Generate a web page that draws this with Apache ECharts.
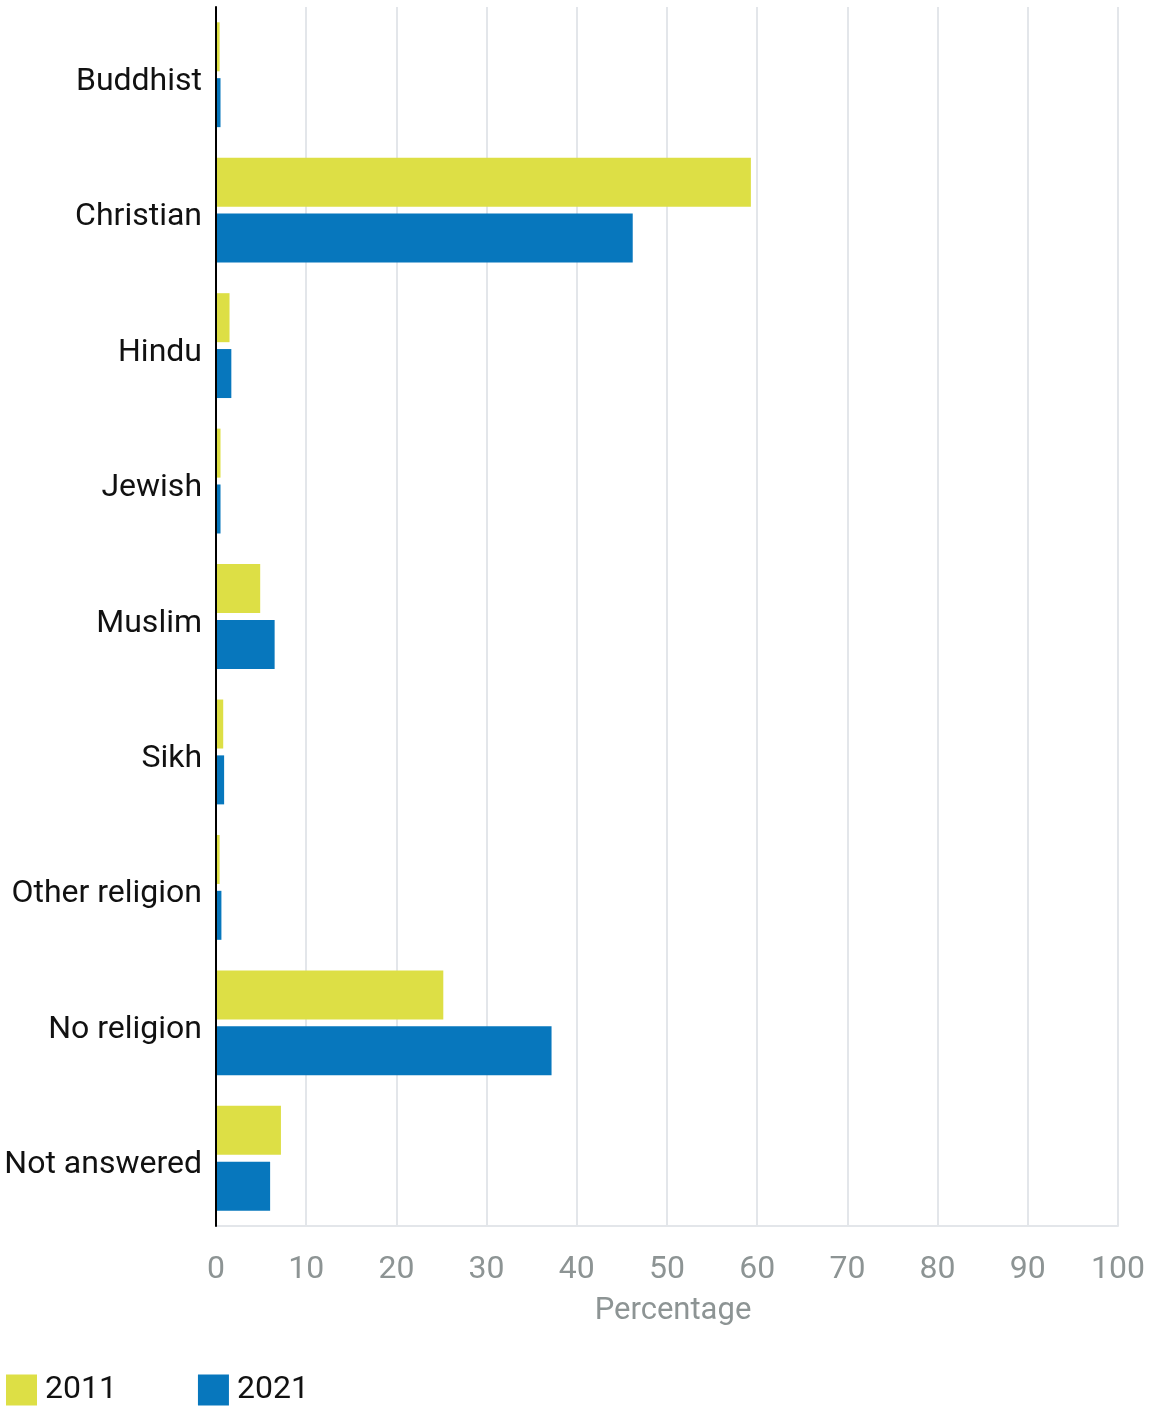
<!DOCTYPE html>
<html>
<head>
<meta charset="utf-8">
<script src="https://cdn.jsdelivr.net/npm/echarts@6/dist/echarts.min.js"></script>
<style>
html,body{margin:0;padding:0;background:#fff;}
#chart{width:1149px;height:1408px;}
</style>
</head>
<body>
<div id="chart"></div>
<script>
const categories = ["Buddhist","Christian","Hindu","Jewish","Muslim","Sikh","Other religion","No religion","Not answered"];
const values2011 = [0.4, 59.3, 1.5, 0.5, 4.9, 0.8, 0.4, 25.2, 7.2];
const values2021 = [0.5, 46.2, 1.7, 0.5, 6.5, 0.9, 0.6, 37.2, 6.0];
const seriesNames = ["2011","2021"];

const chart = echarts.init(document.getElementById('chart'));
chart.setOption({
  animation:false,
  textStyle:{fontFamily:'Roboto'},
  grid:{left:216,right:31,top:7,bottom:182,containLabel:false},
  legend:{
    left:6, top:1374, orient:'horizontal', padding:0,
    itemWidth:31, itemHeight:31, itemGap:81,
    icon:'rect',
    textStyle:{fontSize:32,color:'#111',fontFamily:'Roboto',padding:[12,0,0,3]},
    data:seriesNames
  },
  xAxis:{
    type:'value', min:0, max:100, interval:10,
    axisLine:{show:true,lineStyle:{color:'#e3e6ea',width:2}},
    axisTick:{show:false},
    splitLine:{show:true,lineStyle:{color:'#e3e6ea',width:2}},
    axisLabel:{fontSize:32,color:'#8d9494',margin:28,fontFamily:'Roboto'},
    name:'Percentage', nameLocation:'middle', nameGap:70,
    nameTextStyle:{fontSize:31,color:'#8d9494',fontFamily:'Roboto',padding:[0,0,0,12]}
  },
  yAxis:{
    type:'category', data:categories, inverse:true,
    axisLine:{show:true,lineStyle:{color:'#000',width:2}},
    axisTick:{show:false},
    splitLine:{show:false},
    axisLabel:{
      margin:14,
      formatter:function(v){return '{a|'+v+'}';},
      rich:{a:{fontSize:32,color:'#111',fontFamily:'Roboto',padding:[14,0,0,0]}}
    },
    z:5
  },
  series:[
    {name:seriesNames[0],type:'bar',data:values2011,barWidth:49,barGap:'14%',itemStyle:{color:'#dddf45'}},
    {name:seriesNames[1],type:'bar',data:values2021,barWidth:49,barGap:'14%',itemStyle:{color:'#0777bd'}}
  ]
});
</script>
</body>
</html>
